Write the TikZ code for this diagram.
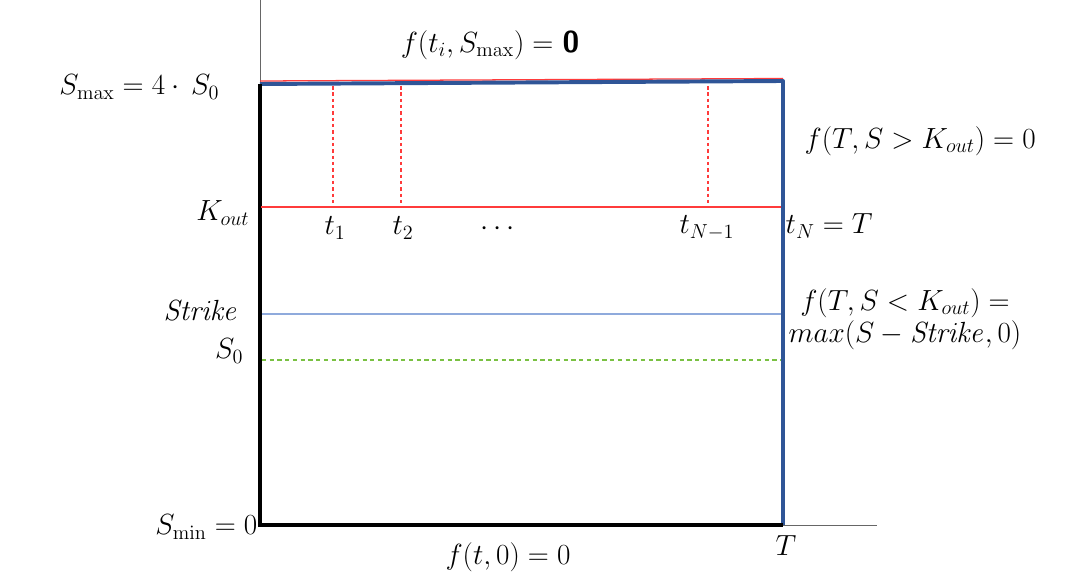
\documentclass[tikz,border=0pt]{standalone}
\usepackage{tikz}
\usetikzlibrary{positioning}
\usepackage{amsmath}
\definecolor{edge}{HTML}{2F5597}
\definecolor{strike}{HTML}{8FAADC}
\definecolor{spot}{HTML}{7AC143}
\definecolor{barrier}{HTML}{FF3B3B}

\begin{document}
\begin{tikzpicture}[x=0.025cm, y=-0.025cm, every node/.style={font=\fontsize{21.5}{25}\selectfont, inner sep=1pt}, axisline/.style={draw=black!60, line width=0.6pt}, gridline/.style={line width=2.8pt}, levelline/.style={draw=barrier, line width=0.9pt}]
\useasboundingbox (0,0) rectangle (1080,582);
\coordinate (o) at (260,525);
\coordinate (top) at (260,0);
\coordinate (end) at (877,525);
\coordinate (tl) at (260,84);
\coordinate (tr) at (783,81);
\coordinate (br) at (783,525);
\coordinate (kl) at (261,207);
\coordinate (kr) at (781,207);
\draw[axisline] (top) -- (o) -- (end);
\draw[levelline] (260,81) -- (783,78.5);
\draw[edge, gridline, line join=round] (tl) -- (tr) -- (br);
\draw[black, gridline, line width=3.2pt] (tl) -- (o) -- (br);
\draw[levelline, line width=1.1pt] (kl) -- (kr);
\draw[strike, line width=1pt] (262,314) -- (781,314);
\draw[levelline, draw=spot, dash pattern=on 3pt off 2.5pt] (262,360) -- (781,360);
\foreach \x in {333,401,708} \draw[levelline, dash pattern=on 2.5pt off 2pt] (\x,86) -- (\x,206);
\node (ftop) at (490,45) {$f(t_i,S_{\max})=$ {\sffamily\bfseries 0}};
\node[anchor=east] (smax) at (221,87) {$S_{\max}=4\cdot\,S_0$};
\node[anchor=east] (kout) at (251,213) {$K_{out}$};
\node (t1) at (335,228) {$t_1$};
\node (t2) at (403,228) {$t_2$};
\node (dots) at (500,229) {$\cdots$};
\node (tn1) at (707,228) {$t_{N-1}$};
\node[anchor=west] (tn) at (784,226) {$t_N=T$};
\node[anchor=west] (fup) at (803,141) {$f(T,S>K_{out})=0$};
\node[anchor=east] (strk) at (240,310) {$\mathit{Strike}$};
\node[anchor=east] (s0) at (245,351) {$S_0$};
\node[align=center] (fdown) at (905,319) {$f(T,S<K_{out})=$\\[-2pt]$max(S-\mathit{Strike},0)$};
\node[anchor=east] (smin) at (259,527) {$S_{\min}=0$};
\node (T) at (786,546) {$T$};
\node (fbot) at (508,557) {$f(t,0)=0$};
\end{tikzpicture}
\end{document}
